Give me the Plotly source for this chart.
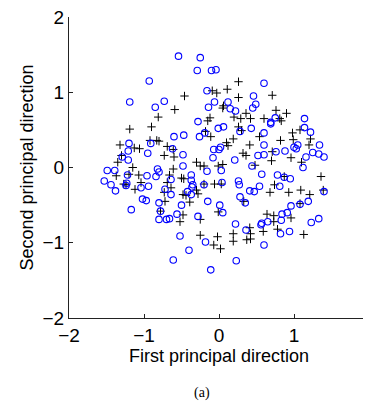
import plotly.graph_objects as go

# Blue circles
circ_x = [-0.93, -1.19, -0.85, -0.73,
          -0.54, -0.25, -0.29, -0.10, -0.04, -0.16, -0.06, -0.14, 0.12, 0.15, 0.22, -0.28,
          0.60, 0.46, 0.49, 0.45, 1.14, 0.75, 0.69,
          -1.20, -0.91, -1.21, -0.95, -1.29, -1.21, -1.49, -1.39, -0.82, -0.80, -0.96, -1.22,
          -1.53, -0.84, -1.44, -1.24, -0.94, -1.04, -1.38, -1.23, -1.02, -0.97, -0.72,
          -0.01, 0.06, -0.60, -0.47, -0.26, -0.19, 0.28, -0.07, 0.02, 0.00, -0.48, -0.08,
          0.21, -0.62, -0.48, -0.16, 0.03, -0.37, -0.64, -0.37, -0.35, -0.36, -0.20, 0.04,
          0.26, 0.27, -0.64, -0.37, 0.28, -0.15, -0.42,
          0.43, 0.69, 0.60, 1.14, 1.22, 0.60, 1.00, 1.05, 1.03, 1.34, 1.25, 1.33, 1.40,
          0.52, 0.60, 0.76, 0.88, 1.16, 1.12, 0.44, 0.57, 0.78, 0.87, 0.95, 0.81, 0.54,
          0.47, 0.41, 1.40,
          -1.17, -0.80, -0.78, -0.80, -0.70,
          -0.50, 0.01, -0.56, -0.66, -0.28, 0.05, 0.35, 0.22, 0.36, -0.52, -0.18, -0.40,
          -0.61, -0.11, 0.23,
          1.08, 1.19, 0.96, 0.84, 0.91, 0.83, 0.65, 0.57, 0.56, 0.82, 0.94, 1.23, 1.33, 0.60]
circ_y = [1.15, 0.87, 0.80, 0.88,
          1.48, 1.46, 1.29, 1.29, 1.30, 1.02, 0.87, 0.80, 0.87, 0.78, 0.75, 0.61,
          1.12, 0.95, 0.84, 0.79, 0.65, 0.66, 0.60,
          0.32, 0.32, 0.22, 0.19, 0.14, 0.10, -0.04, -0.04, -0.02, -0.06, -0.11, -0.10,
          -0.18, -0.12, -0.23, -0.24, -0.25, -0.27, -0.31, -0.21, -0.42, -0.44, -0.29,
          0.52, 0.54, 0.41, 0.43, 0.41, 0.46, 0.48, 0.24, 0.27, 0.24, 0.17, 0.13,
          0.10, 0.25, 0.02, -0.05, -0.04, -0.10, -0.16, -0.17, -0.23, -0.26, -0.23, -0.20,
          -0.18, -0.23, -0.36, -0.36, -0.39, -0.45, -0.32,
          0.52, 0.58, 0.46, 0.53, 0.47, 0.30, 0.27, 0.30, 0.25, 0.30, 0.20, 0.18, 0.14,
          0.16, 0.17, 0.21, 0.22, 0.14, 0.00, 0.02, -0.09, -0.10, -0.13, -0.15, -0.25, -0.25,
          -0.32, -0.31, -0.32,
          -0.56, -0.47, -0.58, -0.69, -0.69,
          -0.50, -0.50, -0.62, -0.68, -0.65, -0.60, -0.47, -0.75, -0.83, -0.91, -0.99, -1.10,
          -1.23, -1.36, -1.24,
          -0.49, -0.45, -0.51, -0.62, -0.60, -0.70, -0.72, -0.74, -0.76, -0.88, -0.85, -0.73, -0.68, -1.03]

# Black plus markers
plus_x = [-0.81,
          0.26, 0.11, -0.09, -0.03, -0.46, 0.26, -0.59, 0.06, 0.05, 0.36, 0.20, 0.29, -0.12, -0.15,
          0.71, 0.76, 0.90, 0.42, 0.60, 0.81, 0.83,
          -1.19, -0.90, -1.32, -1.13, -1.06, -0.92, -0.83, -0.80, -0.69, -0.73, -1.30, -1.35,
          -1.15, -1.37, -1.07, -1.20, -1.24, -1.27, -1.04, -1.12, -0.69, -0.73,
          -0.18, -0.11, 0.26, 0.30, 0.19, 0.10, 0.12, 0.32, 0.36, -0.61, -0.60, -0.30, -0.25,
          -0.20, -0.01, 0.05, -0.61, -0.66, -0.50, -0.47, -0.20, -0.06, 0.03, -0.48, -0.44,
          -0.28, -0.30, -0.64,
          0.54, 0.82, 0.98, 1.08, 1.22, 1.20, 0.99, 0.41, 0.71, 0.70, 0.96, 1.10, 0.48, 1.36,
          0.87, 0.74, 1.09, 1.21, 1.39, 0.68, 0.93,
          -0.78, -0.72,
          -0.39, -0.48, -0.52, -0.25, -0.01, -0.25, -0.02, -0.07, 0.02, 0.19, 0.19, 0.37, 0.33,
          0.64, 0.73, 0.73, 0.96, 1.08, 0.78, 0.59, 0.41, 0.42, 0.42, 1.13]
plus_y = [0.67,
          1.14, 1.04, 1.02, 0.99, 0.95, 0.93, 0.77, 0.82, 0.79, 0.72, 0.67, 0.65, 0.66, 0.62,
          0.96, 0.76, 0.72, 0.65, 0.65, 0.65, 0.62,
          0.51, 0.54, 0.30, 0.26, 0.25, 0.36, 0.36, 0.35, 0.28, 0.16, 0.16, 0.07,
          0.00, -0.11, -0.10, -0.09, -0.23, -0.22, -0.20, -0.29, -0.20, -0.33,
          0.48, 0.41, 0.54, 0.49, 0.38, 0.33, 0.29, 0.19, 0.16, 0.24, 0.14, 0.07, 0.02,
          0.02, 0.02, 0.04, -0.02, -0.10, -0.14, -0.15, -0.22, -0.22, -0.22, -0.36, -0.37,
          -0.35, -0.30, -0.27,
          0.41, 0.36, 0.46, 0.50, 0.38, 0.30, 0.37, 0.30, 0.21, 0.09, 0.13, 0.07, 0.03, -0.12,
          -0.12, -0.23, -0.30, -0.36, -0.30, -0.33, -0.33,
          -0.58, -0.45,
          -0.46, -0.63, -0.72, -0.69, -0.59, -0.90, -0.92, -1.03, -1.08, -0.88, -0.98, -0.96, -0.45,
          -0.62, -0.64, -0.72, -0.67, -0.48, -0.82, -0.85, -0.80, -0.88, -0.95, -0.89]

tick_vals = [-2, -1, 0, 1, 2]
tick_text = ["\u22122", "\u22121", "0", "1", "2"]

FONT = "Liberation Sans, Arial, sans-serif"

fig = go.Figure()
fig.add_trace(go.Scatter(
    x=plus_x, y=plus_y, mode="markers",
    marker=dict(symbol="cross-thin-open", size=6, color="black",
                line=dict(color="black", width=1)),
    showlegend=False, hoverinfo="skip", cliponaxis=False))
fig.add_trace(go.Scatter(
    x=circ_x, y=circ_y, mode="markers",
    marker=dict(symbol="circle-open", size=6.5, color="#0000ff",
                line=dict(color="#1a1aff", width=1.1)),
    showlegend=False, hoverinfo="skip", cliponaxis=False))

axis_common = dict(
    range=[-2, 2], tickvals=tick_vals, ticktext=tick_text, automargin=False,
    ticklabeloverflow="allow",
    showgrid=False, zeroline=False, showline=True, linecolor="#222", linewidth=1,
    ticks="inside", ticklen=4, tickcolor="#222", mirror=False,
    tickfont=dict(family=FONT, size=19, color="black"),
)

# The page body has an 8px margin, so the figure is sized to fit inside it.
fig.update_layout(
    width=363, height=396,
    margin=dict(l=61, r=2, t=9, b=86),
    paper_bgcolor="white", plot_bgcolor="white",
    font=dict(family=FONT, color="black"),
    xaxis=dict(**axis_common,
               title=dict(text="First principal direction", standoff=0,
                          font=dict(size=18, family=FONT))),
    yaxis=dict(**axis_common,
               title=dict(text="Second principal direction", standoff=4,
                          font=dict(size=18, family=FONT))),
    annotations=[dict(text="(a)", x=(202 - 69) / 300, xref="paper",
                      y=-(393 - 318) / 301, yref="paper", yanchor="middle",
                      showarrow=False,
                      font=dict(family="Liberation Serif, Times New Roman, serif", size=14))],
)

fig.write_html("out.html")
